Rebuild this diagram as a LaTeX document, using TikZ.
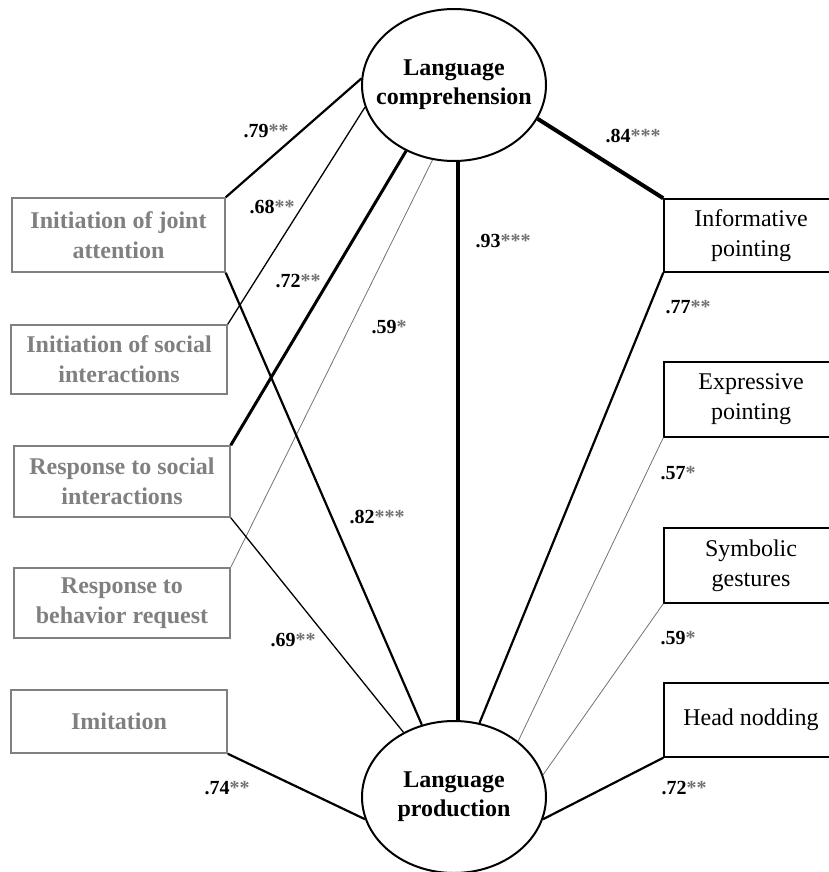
\documentclass[tikz,border=0pt]{standalone}
\usepackage{fontspec}
\setmainfont{Liberation Serif}
\usetikzlibrary{shapes.geometric}
\newcommand{\stars}[1]{\textcolor{black!55}{#1}}

\begin{document}
\begin{tikzpicture}[x=1pt,y=-1pt,inner sep=0pt]
    \tikzstyle{lbox}=[rectangle,draw=black!50,line width=1.5pt,text=black!50,font=\fontsize{24}{30}\selectfont\bfseries,align=center]
    \tikzstyle{rbox}=[rectangle,draw=black,line width=1.5pt,minimum width=174pt,font=\fontsize{24}{30}\selectfont,align=center]
    \tikzstyle{latent}=[ellipse,draw,line width=2pt,inner xsep=-22pt,inner ysep=0pt,minimum width=184pt,minimum height=152pt,font=\fontsize{24}{29}\selectfont\bfseries,align=center]
    \tikzstyle{coef}=[font=\fontsize{20}{24}\selectfont\bfseries]
    \tikzstyle{lfaint}=[line width=0.8pt,draw=black!55]
    \tikzstyle{lslim}=[line width=1.3pt]
    \tikzstyle{lmed}=[line width=2.2pt]
    \tikzstyle{lbroad}=[line width=3pt]
    \tikzstyle{lheavy}=[line width=4pt]
    \useasboundingbox (0,0) rectangle (829,872);

    \node[latent] (comp) at (454,85) {Language\\comprehension};
    \node[latent] (prod) at (454,797) {Language\\production};

    \node[lbox,minimum width=213pt,minimum height=74pt] (ija) at (118.5,235) {Initiation of joint\\attention};
    \node[lbox,minimum width=216pt,minimum height=69pt] (isi) at (119,359.5) {Initiation of social\\interactions};
    \node[lbox,minimum width=216pt,minimum height=71pt] (rsi) at (122,481.5) {Response to social\\interactions};
    \node[lbox,minimum width=216pt,minimum height=70pt] (rbr) at (122,603) {Response to\\behavior request};
    \node[lbox,minimum width=216pt,minimum height=63pt] (imi) at (119,721.5) {Imitation};

    \node[rbox,minimum height=73pt] (inf) at (751,235.5) {Informative\\pointing};
    \node[rbox,minimum height=75pt] (exp) at (751,399.5) {Expressive\\pointing};
    \node[rbox,minimum height=75pt] (sym) at (751,565.5) {Symbolic\\gestures};
    \node[rbox,minimum height=74pt] (hea) at (751,720) {Head nodding};

    \foreach \a/\b/\w in {comp.176/ija.north east/lmed, comp.194/isi.north east/lslim,
        comp.234/rsi.north east/lbroad, comp.254/rbr.north east/lfaint,
        comp.273/prod.87/lheavy, comp.338/inf.north west/lheavy,
        prod.114/ija.south east/lmed, prod.128/rsi.south east/lslim,
        prod.194/imi.south east/lmed, prod.71/inf.south west/lmed,
        prod.41/exp.south west/lfaint, prod.14/sym.south west/lfaint,
        prod.346/hea.south west/lmed} {
        \draw[\w] (\a) -- (\b);
    };

    \node[coef] (c1) at (266,131) {.79\stars{**}};
    \node[coef] (c2) at (272,207) {.68\stars{**}};
    \node[coef] (c3) at (298,281) {.72\stars{**}};
    \node[coef] (c4) at (389,327) {.59\stars{*}};
    \node[coef] (c5) at (503,241) {.93\stars{***}};
    \node[coef] (c6) at (633,136) {.84\stars{***}};
    \node[coef] (c7) at (377,517) {.82\stars{***}};
    \node[coef] (c8) at (293,640) {.69\stars{**}};
    \node[coef] (c9) at (227,788) {.74\stars{**}};
    \node[coef] (c10) at (688,307) {.77\stars{**}};
    \node[coef] (c11) at (678,473) {.57\stars{*}};
    \node[coef] (c12) at (678,638) {.59\stars{*}};
    \node[coef] (c13) at (684,788) {.72\stars{**}};
\end{tikzpicture}
\end{document}
